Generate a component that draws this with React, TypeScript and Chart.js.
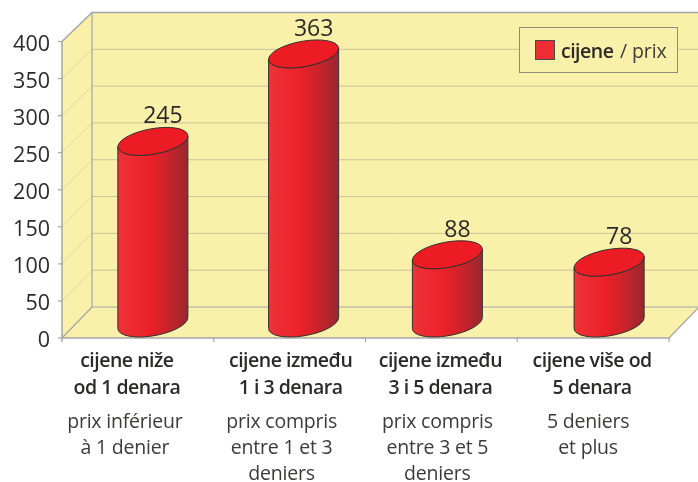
import React, { useEffect, useRef } from "react";
import { Chart, registerables } from "chart.js";

Chart.register(...registerables);

const categories = ["cijene niže od 1 denara", "cijene između 1 i 3 denara", "cijene između 3 i 5 denara", "cijene više od 5 denara"];
const prices = [245, 363, 88, 78];
const yTicks = [0, 50, 100, 150, 200, 250, 300, 350, 400];
const croatianLines = [
  ["cijene niže", "od 1 denara"],
  ["cijene između", "1 i 3 denara"],
  ["cijene između", "3 i 5 denara"],
  ["cijene više od", "5 denara"],
];
const frenchLines = [
  ["prix inférieur", "à 1 denier"],
  ["prix compris", "entre 1 et 3", "deniers"],
  ["prix compris", "entre 3 et 5", "deniers"],
  ["5 deniers", "et plus"],
];
const seriesName = "cijene";
const seriesNameFr = "/ prix";

const FONT = '"Open Sans", "Noto Sans", sans-serif';
const DEPTH = 30;
const barNudgeX = [0, -1, -9, 1];
const barNudgeY = [0, 0, -3, -3];
const hrNudgeX = [-11, 1, -1, -1];
const frNudgeX = [-13, -8, -4, -5];
const WALL = "#F9F1A9";
const AXIS = "#A3A5A8";
const GRID = "#C9C39A";
const SIDE_GRID = "#DDD7A6";
const INK = "#2B2A29";
const INK_FR = "#3C3B3A";

function line(ctx: CanvasRenderingContext2D, pts: number[][], color: string, w = 1) {
  ctx.beginPath();
  pts.forEach((p, i) => (i ? ctx.lineTo(p[0], p[1]) : ctx.moveTo(p[0], p[1])));
  ctx.strokeStyle = color;
  ctx.lineWidth = w;
  ctx.stroke();
}

const backdrop = {
  id: "backdrop",
  beforeDatasetsDraw(chart: any) {
    const { ctx, chartArea: a, scales } = chart;
    const { left, right, top, bottom } = a;
    const wallR = right + DEPTH;
    const backY = (y: number) => y - 29 - (2 * (y - top)) / (bottom - top);
    const wallTop = backY(top);
    const wallBottom = backY(bottom);
    ctx.save();
    ctx.beginPath();
    ctx.moveTo(left, top);
    ctx.lineTo(left + DEPTH, wallTop);
    ctx.lineTo(wallR, wallTop);
    ctx.lineTo(wallR, wallBottom);
    ctx.lineTo(right, bottom);
    ctx.lineTo(left, bottom);
    ctx.closePath();
    ctx.fillStyle = WALL;
    ctx.fill();
    for (const t of yTicks) {
      if (t === 0 || t === 400) continue;
      const y = scales.y.getPixelForValue(t);
      line(ctx, [[left, y], [left + DEPTH, backY(y)]], SIDE_GRID);
      line(ctx, [[left + DEPTH, backY(y)], [wallR, backY(y)]], GRID);
    }
    line(ctx, [[left, top], [left + DEPTH, wallTop], [wallR, wallTop]], AXIS, 1.5);
    line(ctx, [[left + DEPTH, wallTop], [left + DEPTH, wallBottom], [wallR, wallBottom]], AXIS, 1.2);
    line(ctx, [[left, bottom], [left + DEPTH, wallBottom]], AXIS, 1.2);
    line(ctx, [[right, bottom], [wallR, wallBottom]], AXIS, 1.2);
    line(ctx, [[left, top], [left, bottom + 4]], AXIS, 1.5);
    line(ctx, [[left, bottom], [right, bottom]], AXIS, 1.5);
    for (const t of yTicks) {
      const y = scales.y.getPixelForValue(t);
      line(ctx, [[left - 4, y], [left, y]], AXIS, 1.2);
    }
    for (let i = 1; i <= categories.length; i++) {
      const x = left + ((right - left) * i) / categories.length;
      line(ctx, [[x, bottom], [x, bottom + 4]], AXIS, 1.2);
    }
    ctx.restore();
  },
};

const cylinders = {
  id: "cylinders",
  beforeDatasetDraw(chart: any) {
    const { ctx } = chart;
    const meta = chart.getDatasetMeta(0);
    const a = 35.5;
    const b = 12.7;
    const rot = (-10.2 * Math.PI) / 180;
    const t0 = Math.atan((-b / a) * Math.tan(rot));
    const ex = a * Math.cos(t0) * Math.cos(rot) - b * Math.sin(t0) * Math.sin(rot);
    const ey = a * Math.cos(t0) * Math.sin(rot) + b * Math.sin(t0) * Math.cos(rot);
    ctx.save();
    meta.data.forEach((el: any, i: number) => {
      const cx = el.x + DEPTH / 2 + barNudgeX[i];
      const topY = el.y - DEPTH / 2 + barNudgeY[i];
      const baseY = el.base - DEPTH / 2;
      const grad = ctx.createLinearGradient(cx - ex, 0, cx + ex, 0);
      grad.addColorStop(0, "#EF3239");
      grad.addColorStop(0.45, "#EC2028");
      grad.addColorStop(0.72, "#C9232B");
      grad.addColorStop(1, "#98282E");
      ctx.beginPath();
      ctx.moveTo(cx + ex, topY + ey);
      ctx.lineTo(cx + ex, baseY + ey);
      ctx.ellipse(cx, baseY, a, b, rot, t0, t0 + Math.PI);
      ctx.lineTo(cx - ex, topY - ey);
      ctx.ellipse(cx, topY, a, b, rot, t0 + Math.PI, t0, true);
      ctx.closePath();
      ctx.fillStyle = grad;
      ctx.fill();
      ctx.strokeStyle = "#33302E";
      ctx.lineWidth = 1;
      ctx.stroke();
      ctx.beginPath();
      ctx.ellipse(cx, topY, a, b, rot, 0, Math.PI * 2);
      ctx.fillStyle = "#ED1C24";
      ctx.fill();
      ctx.stroke();
      ctx.fillStyle = INK;
      ctx.font = `23px ${FONT}`;
      ctx.textAlign = "center";
      ctx.textBaseline = "alphabetic";
      ctx.fillText(String(prices[i]), cx + 10, topY - 18);
    });
    ctx.restore();
    return false;
  },
};

const annotations = {
  id: "annotations",
  afterDatasetsDraw(chart: any) {
    const { ctx, scales } = chart;
    ctx.save();
    ctx.textAlign = "center";
    ctx.textBaseline = "alphabetic";
    categories.forEach((_, i) => {
      const x = scales.x.getPixelForTick(i);
      ctx.fillStyle = INK;
      ctx.font = `600 19.5px ${FONT}`;
      (ctx as any).letterSpacing = "-0.5px";
      croatianLines[i].forEach((s, j) => ctx.fillText(s, x + hrNudgeX[i], 367 + j * 26.5));
      ctx.fillStyle = INK_FR;
      ctx.font = `19.5px ${FONT}`;
      (ctx as any).letterSpacing = "-0.2px";
      frenchLines[i].forEach((s, j) => ctx.fillText(s, x + frNudgeX[i], 428 + j * 26));
    });
    // legend
    ctx.strokeStyle = "#8E8C74";
    ctx.lineWidth = 1;
    ctx.fillStyle = WALL;
    ctx.fillRect(519.5, 27.5, 158, 45);
    ctx.strokeRect(519.5, 27.5, 158, 45);
    ctx.fillStyle = "#EE2C34";
    ctx.fillRect(535.5, 40.5, 19, 19);
    ctx.strokeStyle = "#4A4A48";
    ctx.strokeRect(535.5, 40.5, 19, 19);
    ctx.textAlign = "left";
    ctx.fillStyle = INK;
    ctx.font = `600 19.5px ${FONT}`;
    (ctx as any).letterSpacing = "-0.5px";
    ctx.fillText(seriesName, 561, 58);
    ctx.fillStyle = INK_FR;
    ctx.font = `19.5px ${FONT}`;
    (ctx as any).letterSpacing = "-0.1px";
    ctx.fillText(seriesNameFr, 620, 58);
    ctx.restore();
  },
};

export default function App() {
  const ref = useRef<HTMLCanvasElement>(null);
  useEffect(() => {
    const chart = new Chart(ref.current as HTMLCanvasElement, {
      type: "bar",
      data: {
        labels: categories,
        datasets: [{ label: `${seriesName} ${seriesNameFr}`, data: prices, backgroundColor: "#ED1C24" }],
      },
      options: {
        responsive: false,
        animation: false,
        layout: { padding: { left: 0, right: 29, top: 41.5, bottom: 0 } },
        plugins: { legend: { display: false }, tooltip: { enabled: false } },
        scales: {
          x: {
            grid: { display: false },
            border: { display: false },
            ticks: { display: false },
            afterFit: (s: any) => { s.height = 144; },
          },
          y: {
            min: 0,
            max: 400,
            afterFit: (s: any) => { s.width = 62; },
            grid: { display: false },
            border: { display: false },
            afterBuildTicks: (s: any) => { s.ticks = yTicks.map((value) => ({ value })); },
            ticks: { padding: 4, labelOffset: 3, color: INK, font: { family: FONT, size: 21.5 } },
          },
        },
      } as any,
      plugins: [backdrop, cylinders, annotations],
    });
    return () => chart.destroy();
  }, []);
  return (
    <div style={{ position: "fixed", left: 0, top: 0, width: 698, height: 482, background: "#fff" }}>
      <canvas ref={ref} width={698} height={482} style={{ display: "block" }} />
    </div>
  );
}
